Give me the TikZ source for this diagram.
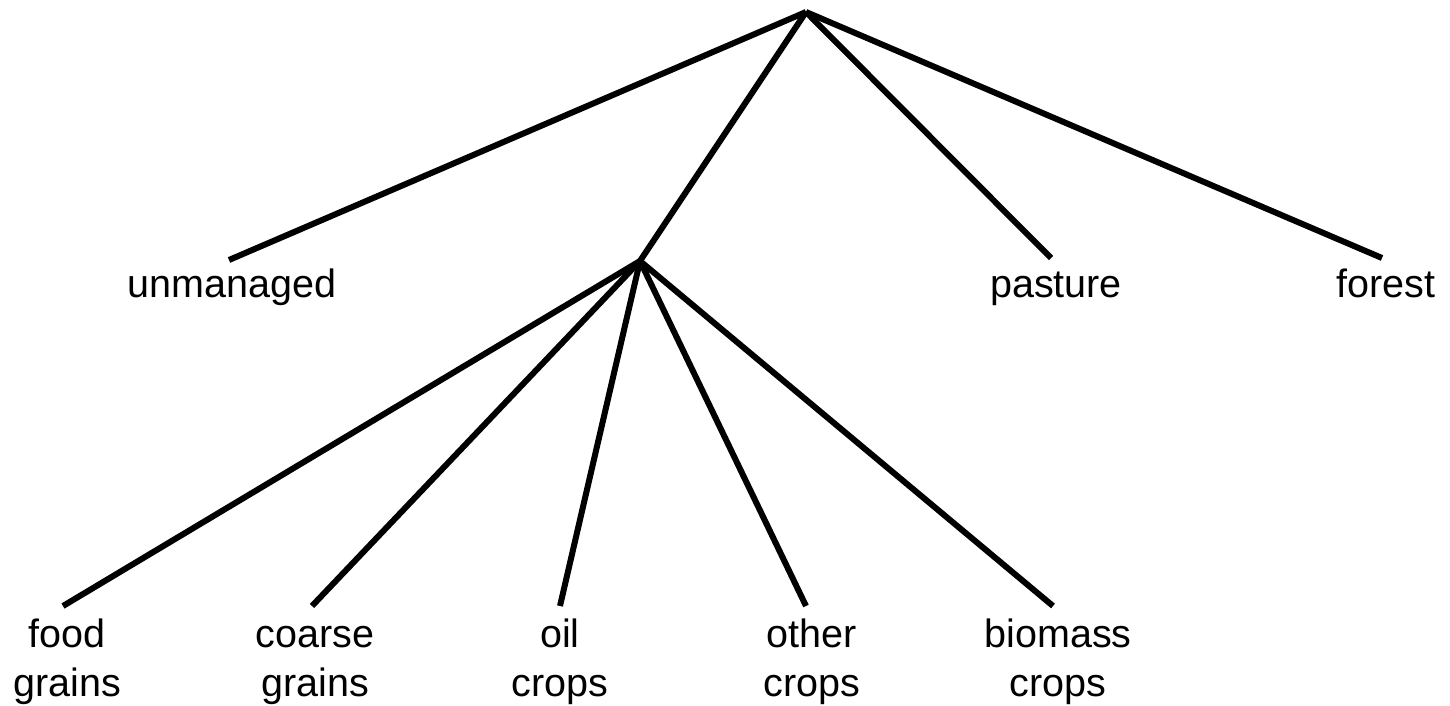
\documentclass[tikz,border=0pt]{standalone}
\usepackage{fontspec}
\setmainfont{Liberation Sans}
\begin{document}
\begin{tikzpicture}[x=1pt,y=-1pt,
  edge/.style={line width=6pt,black},
  lbl/.style={anchor=base,inner sep=0pt,font=\fontsize{39.5}{49}\selectfont},
  lbl2/.style={anchor=base,inner sep=0pt,align=center,font=\fontsize{39.5}{49}\selectfont}]
\useasboundingbox (0,0) rectangle (1450,706);
\coordinate (root) at (806,12);
\coordinate (mid) at (640,261);
\coordinate (eU) at (229,260);
\coordinate (eP) at (1051,258);
\coordinate (eF) at (1382,258);
\coordinate (eFG) at (63,606);
\coordinate (eCG) at (312,606);
\coordinate (eOC) at (560,606);
\coordinate (eOT) at (806,606);
\coordinate (eBC) at (1053,606);
\node[lbl] (unmanaged) at (232,297) {unmanaged};
\node[lbl] (pasture) at (1056,297) {pasture};
\node[lbl] (forest) at (1386,297) {forest};
\node[lbl2] (food) at (67,696) {food\\grains};
\node[lbl2] (coarse) at (315,696) {coarse\\grains};
\node[lbl2] (oil) at (560,696) {oil\\crops};
\node[lbl2] (other) at (812,696) {other\\crops};
\node[lbl2] (biomass) at (1058,696) {biomass\\crops};
\draw[edge] (root) -- (eU);
\draw[edge] (root) -- (mid);
\draw[edge] (root) -- (eP);
\draw[edge] (root) -- (eF);
\draw[edge] (mid) -- (eFG);
\draw[edge] (mid) -- (eCG);
\draw[edge] (mid) -- (eOC);
\draw[edge] (mid) -- (eOT);
\draw[edge] (mid) -- (eBC);
\end{tikzpicture}
\end{document}
